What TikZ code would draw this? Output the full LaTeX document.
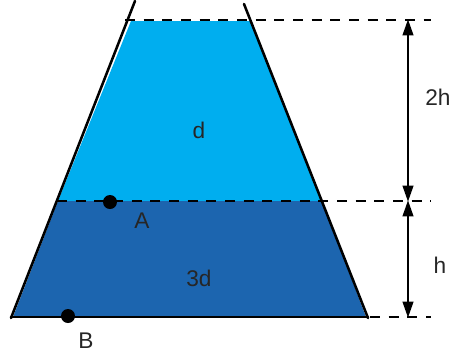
\documentclass[tikz,border=0pt]{standalone}
\usepackage{fontspec}
\setsansfont{Liberation Sans}
\usetikzlibrary{positioning,arrows.meta,calc}
\definecolor{water-light}{RGB}{0,174,239}
\definecolor{water-dark}{RGB}{28,101,175}

\begin{document}
\begin{tikzpicture}[
  x=0.75pt, y=-0.75pt,
  font=\fontsize{17}{20}\sffamily,
  wall/.style={line width=1.9pt, line cap=round},
  lvl/.style={line width=1.5pt, dash pattern=on 7.5pt off 6.5pt},
  dim/.style={{Triangle[length=12pt,width=8pt]}-{Triangle[length=12pt,width=8pt]}, line width=1.5pt, shorten <=-0.5pt, shorten >=-0.5pt},
  dot/.style={circle, fill=black, inner sep=0pt, minimum size=10.5pt},
  lbl/.style={text=black!85, inner sep=1pt}
]
\useasboundingbox (0,0) rectangle (454,358);
% water layers
\fill[water-light] (131,21) -- (250,21) -- (322,201) -- (58,201) -- cycle;
\fill[water-dark] (58,201) -- (322,201) -- (366,317) -- (13,317) -- cycle;
% vessel
\coordinate (wall-l-top) at (135,1);
\coordinate (wall-l-bot) at (11,318);
\coordinate (wall-r-top) at (244,4);
\coordinate (wall-r-bot) at (368,318);
\draw[wall] (wall-l-top) -- (wall-l-bot);
\draw[wall] (wall-r-top) -- (wall-r-bot);
\draw[wall] (11,317) -- (368,317);
% levels
\coordinate (lvl-top-l) at (125,20);
\coordinate (lvl-top-r) at (431,20);
\coordinate (lvl-mid-l) at (57,201);
\coordinate (lvl-mid-r) at (431,201);
\coordinate (lvl-bot-l) at (370,317);
\coordinate (lvl-bot-r) at (431,317);
\draw[lvl] (lvl-top-l) -- (lvl-top-r);
\draw[lvl] (lvl-mid-l) -- (lvl-mid-r);
\draw[lvl] (lvl-bot-l) -- (lvl-bot-r);
% heights
\coordinate (dim-top) at (408,20);
\coordinate (dim-mid) at (408,201);
\coordinate (dim-bot) at (408,317);
\draw[dim] (dim-top) -- (dim-mid);
\draw[dim] (dim-mid) -- (dim-bot);
\node[lbl] (lbl-2h) at (438,97) {2h};
\node[lbl] (lbl-h) at (440,265) {h};
\node[lbl] (lbl-d) at (199,130) {d};
\node[lbl] (lbl-3d) at (199,278) {3d};
% points
\node[dot] (pt-a) at (110,202) {};
\node[dot] (pt-b) at (68,316) {};
\node[lbl] (lbl-a) at (142,221) {A};
\node[lbl] (lbl-b) at (86,341) {B};
\end{tikzpicture}
\end{document}
